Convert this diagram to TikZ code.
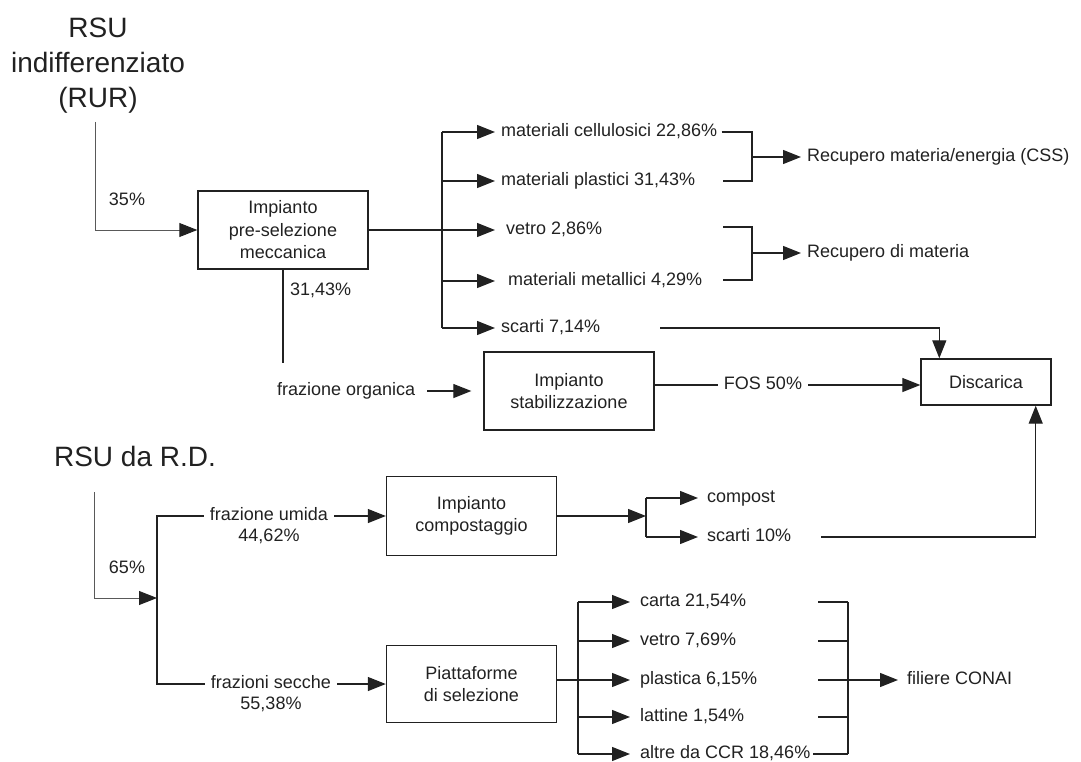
\documentclass[tikz,border=0pt]{standalone}
\usepackage{fontspec}
\setmainfont{Liberation Sans}
\usetikzlibrary{arrows.meta}
\definecolor{ink}{rgb}{0.13, 0.13, 0.13}
\definecolor{feed gray}{rgb}{0.35, 0.35, 0.35}

\tikzset{
	plant/.style = {draw=ink, line width=1.4pt, minimum width=170pt, minimum height=78pt,
		align=center, inner sep=0pt, text=ink, font=\fontsize{18}{22.5}\selectfont},
	lbl/.style = {text=ink, inner sep=0pt, text height=12.5pt, text depth=3.5pt,
		font=\fontsize{18}{22}\selectfont},
	title/.style = {text=ink, inner sep=0pt, align=center, font=\fontsize{28}{35}\selectfont},
	flow/.style = {draw=ink, line width=1.3pt},
	arr/.style = {flow, -{Triangle[length=18pt, width=14pt]}},
	feed/.style = {draw=feed gray, line width=0.9pt, -{Triangle[length=18pt, width=14pt, color=ink]}}
}

\begin{document}
\begin{tikzpicture}[x=1pt, y=-1pt]
			\useasboundingbox (0, 0) rectangle (1081, 762);
			% part for RSU indifferenziato
			\begin{scope}
				\node[title] (rur) at (98, 66) {RSU\\indifferenziato\\(RUR)};
				\node[plant] (pre) at (283, 230) {Impianto\\pre-selezione\\meccanica};
				\node[lbl] (p35) at (127, 201) {35\%};
				\draw[feed] ([xshift=-3pt, yshift=-8pt]rur.south) |- (pre.west);
			\end{scope}
			% outputs of the pre-selection
			\begin{scope}
				\node[lbl, anchor=west] (cell) at (501, 132) {materiali cellulosici 22,86\%};
				\node[lbl, anchor=west] (plas) at (501, 181) {materiali plastici 31,43\%};
				\node[lbl, anchor=west] (vetroA) at (506, 230) {vetro 2,86\%};
				\node[lbl, anchor=west] (metal) at (508, 281) {materiali metallici 4,29\%};
				\node[lbl, anchor=west] (scartA) at (501, 328) {scarti 7,14\%};
				\node[lbl, anchor=west] (rec1) at (807, 157) {Recupero materia/energia (CSS)};
				\node[lbl, anchor=west] (rec2) at (807, 253) {Recupero di materia};
				\coordinate (ft) at (442, 230);
				\coordinate (tipA) at (495, 230);
				\coordinate (brA) at (752, 157);
				\coordinate (brB) at (752, 253);
				\draw[flow] (pre.east) -- (ft);
				\draw[flow] (ft |- cell.west) -- (ft |- scartA.west);
				\foreach \n in {cell, plas, vetroA, metal, scartA}
					\draw[arr] (ft |- \n.west) -- (tipA |- \n.west);
				\draw[flow] ([xshift=4pt]cell.east) -- (brA |- cell.east) -- (brA |- plas.east) -- ++(-29, 0);
				\draw[arr] (brA) -- ([xshift=-6pt]rec1.west);
				\draw[flow] (723, 227) -- (752, 227) -- (752, 280) -- (723, 280);
				\draw[arr] (brB) -- ([xshift=-6pt]rec2.west);
			\end{scope}
			% organic fraction and landfill
			\begin{scope}
				\coordinate (orgEnd) at (283, 363);
				\node[lbl, anchor=west] (p3143) at (290, 291) {31,43\%};
				\node[plant] (stab) at (569, 391) {Impianto\\stabilizzazione};
				\node[lbl, anchor=west] (org) at (277, 391) {frazione organica};
				\node[lbl, inner sep=6pt] (fos) at (763, 385) {FOS 50\%};
				\node[plant, minimum width=130pt, minimum height=46pt] (disc) at (986, 382) {Discarica};
				\draw[flow] (pre.south) -- (orgEnd);
				\draw[arr] ([xshift=12pt]org.east) -- ([xshift=-12pt]stab.west);
				\draw[flow] (stab.east |- fos.west) -- (fos.west);
				\draw[arr] (fos.east) -- (disc.west |- fos.east);
				\draw[arr] ([xshift=60pt]scartA.east) -| ([xshift=19pt]disc.north west);
			\end{scope}
			% part for RSU da R.D.
			\begin{scope}
				\node[title] (rd) at (135, 456) {RSU da R.D.};
				\node[lbl] (p65) at (127, 569) {65\%};
				\coordinate (rdt) at (157, 598);
				\node[lbl, label={[lbl, yshift=-5pt]below:44,62\%}] (umida) at (269, 516) {frazione umida};
				\node[lbl, label={[lbl, yshift=-5pt]below:55,38\%}] (secche) at (271, 684) {frazioni secche};
				\node[plant, minimum height=79pt] (comp) at (471.5, 516) {Impianto\\compostaggio};
				\node[plant, minimum height=77pt] (piatt) at (471.5, 684) {Piattaforme\\di selezione};
				\draw[feed] ([xshift=-41pt, yshift=-26pt]rd.south) |- (rdt);
				\draw[flow] ([xshift=-6pt]umida.west) -| (rdt) |- ([xshift=-6pt]secche.west);
				\draw[arr] ([xshift=6pt]umida.east) -- (comp.west);
				\draw[arr] ([xshift=6pt]secche.east) -- (piatt.west);
			\end{scope}
			% compost outputs
			\begin{scope}
				\coordinate (ct) at (646, 516);
				\node[lbl, anchor=west] (compost) at (707, 498) {compost};
				\node[lbl, anchor=west] (scartB) at (707, 537) {scarti 10\%};
				\draw[arr] (comp.east) -- (ct);
				\draw[flow] (ct |- compost.west) -- (ct |- scartB.west);
				\foreach \n in {compost, scartB}
					\draw[arr] (ct |- \n.west) -- ([xshift=-9pt]\n.west);
				\draw[arr] ([xshift=30pt]scartB.east) -| ([xshift=-16pt]disc.south east);
			\end{scope}
			% selection platform outputs
			\begin{scope}
				\coordinate (pt) at (578, 680);
				\coordinate (stubC) at (818, 680);
				\coordinate (brC) at (848, 680);
				\node[lbl, anchor=west] (carta) at (640, 602) {carta 21,54\%};
				\node[lbl, anchor=west] (vetroB) at (640, 641) {vetro 7,69\%};
				\node[lbl, anchor=west] (plastB) at (640, 680) {plastica 6,15\%};
				\node[lbl, anchor=west] (latt) at (640, 717) {lattine 1,54\%};
				\node[lbl, anchor=west] (altre) at (640, 754) {altre da CCR 18,46\%};
				\node[lbl, anchor=west] (conai) at (907, 680) {filiere CONAI};
				\draw[flow] (piatt.east |- pt) -- (pt);
				\draw[flow] (pt |- carta.west) -- (pt |- altre.west);
				\foreach \n in {carta, vetroB, plastB, latt, altre}
					\draw[arr] (pt |- \n.west) -- ([xshift=-10pt]\n.west);
				\foreach \n in {carta, vetroB, plastB, latt}
					\draw[flow] (stubC |- \n.west) -- (brC |- \n.west);
				\draw[flow] ([xshift=3pt]altre.east) -- (brC |- altre.east);
				\draw[flow] (brC |- carta.west) -- (brC |- altre.west);
				\draw[arr] (brC) -- ([xshift=-9pt]conai.west);
			\end{scope}
		\end{tikzpicture}
\end{document}
